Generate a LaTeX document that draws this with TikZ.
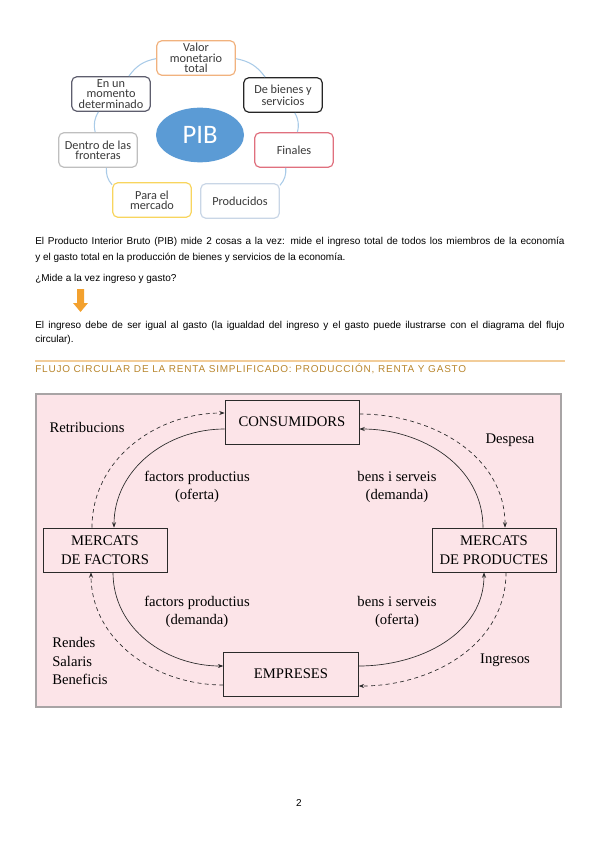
\documentclass[tikz,border=0pt]{standalone}
\usepackage{fontspec}
\setmainfont{Liberation Serif}
\setsansfont{Liberation Sans}
\newfontfamily\calib{Carlito}
\usetikzlibrary{arrows.meta,positioning,shapes.geometric,calc}
\definecolor{ringc}{HTML}{A9CBE8}
\definecolor{ringtxt}{HTML}{3A3A3A}
\definecolor{pibc}{HTML}{5B9BD5}
\definecolor{valc}{HTML}{F1B27E}
\definecolor{bienc}{HTML}{262626}
\definecolor{finc}{HTML}{E0707E}
\definecolor{prodc}{HTML}{C9D6E6}
\definecolor{mercc}{HTML}{F8D55E}
\definecolor{dentc}{HTML}{BFBFBF}
\definecolor{momc}{HTML}{5E5E6E}
\definecolor{arrowc}{HTML}{F3A12E}
\definecolor{rulec}{HTML}{F2CD9A}
\definecolor{headc}{HTML}{B8862E}
\definecolor{flowbg}{HTML}{FCE4E8}
\definecolor{flowfr}{HTML}{A8A4A5}
\definecolor{flowln}{HTML}{2A2A2A}
\tikzset{
  ring/.style={draw=#1, fill=white, rounded corners=4pt, line width=0.9pt, minimum width=59pt, minimum height=26pt, inner sep=0.5pt, align=center, font=\calib\fontsize{9.2}{7.8}\selectfont, text=ringtxt},
  ringlink/.style={draw=ringc, line width=0.8pt},
  para/.style={anchor=west, inner sep=0pt, font=\sffamily\fontsize{7.5}{9}\selectfont},
  flowbox/.style={draw=flowln, fill=flowbg, line width=0.6pt, minimum height=33pt, inner sep=2pt, align=center, font=\fontsize{11}{14}\selectfont},
  lbl/.style={align=center, inner sep=0pt, font=\fontsize{11}{14}\selectfont},
  solidflow/.style={-{Stealth[length=4pt,width=3pt]}, line width=0.5pt, draw=flowln},
  cashflow/.style={solidflow, dash pattern=on 3pt off 2.5pt},
}
\begin{document}
\begin{tikzpicture}[x=0.75pt, y=-0.75pt]
  \useasboundingbox (0,0) rectangle (599,848);
  % anillo del PIB
  \node[ellipse, fill=pibc, minimum width=66pt, minimum height=41pt, text=white, font=\calib\fontsize{20}{20}\selectfont] (pib) at (200,135) {PIB};
  \node[ring=valc] (val) at (196,58) {Valor\\monetario\\total};
  \node[ring=bienc] (bien) at (283,95) {De bienes y\\servicios};
  \node[ring=finc] (fin) at (294,150) {Finales};
  \node[ring=prodc] (prod) at (240,201) {Producidos};
  \node[ring=mercc] (merc) at (152,200) {Para el\\mercado};
  \node[ring=dentc] (dent) at (98,150) {Dentro de las\\fronteras};
  \node[ring=momc] (mom) at (111,94) {En un\\momento\\determinado};
  \draw[ringlink] (val) to[bend left=22] (bien);
  \draw[ringlink] (bien) to[bend left=22] (fin);
  \draw[ringlink] (fin) to[bend left=22] (prod);
  \draw[ringlink] (merc) to[bend left=22] (dent);
  \draw[ringlink] (dent) to[bend left=22] (mom);
  \draw[ringlink] (mom) to[bend left=22] (val);
  % texto
  \node[para] (p1) at (35,242) {\makebox[397pt][s]{El Producto Interior Bruto (PIB) mide 2 cosas a la vez: mide el ingreso total de todos los miembros de la economía}};
  \node[para] (p2) at (35,258) {y el gasto total en la producción de bienes y servicios de la economía.};
  \node[para] (q) at (35,279) {¿Mide a la vez ingreso y gasto?};
  \fill[arrowc] (77,289) -- (84,289) -- (84,303) -- (88,303) -- (80.5,312) -- (73,303) -- (77,303) -- cycle;
  \node[para] (p3) at (35,326) {\makebox[397pt][s]{El ingreso debe de ser igual al gasto (la igualdad del ingreso y el gasto puede ilustrarse con el diagrama del flujo}};
  \node[para] (p4) at (35,340) {circular).};
  \draw[rulec, line width=1pt] (35,361) -- (565,361);
  \node[para, text=headc, font=\sffamily\addfontfeatures{LetterSpace=8}\fontsize{7.5}{9}\selectfont] (head) at (35,369) {FLUJO CIRCULAR DE LA RENTA SIMPLIFICADO: PRODUCCIÓN, RENTA Y GASTO};
  % flujo circular
  \draw[flowfr, fill=flowbg, line width=0.8pt] (36,394) rectangle (561,707);
  \node[flowbox, minimum width=100.5pt] (cons) at (292,422) {CONSUMIDORS};
  \node[flowbox, minimum width=93pt] (mfac) at (105,550) {MERCATS\\DE FACTORS};
  \node[flowbox, minimum width=93pt] (mprod) at (494,550) {MERCATS\\DE PRODUCTES};
  \node[flowbox, minimum width=101pt] (emp) at (291,674) {EMPRESES};
  \draw[cashflow] ($(mfac.north)+(-13,0)$) to[out=90,in=180] ($(cons.west)+(0,-9)$);
  \draw[solidflow] ($(cons.west)+(0,7)$) to[out=180,in=90] ($(mfac.north)+(9,0)$);
  \draw[solidflow] ($(mfac.south)+(8,0)$) to[out=-90,in=180] ($(emp.west)+(0,-8)$);
  \draw[cashflow] ($(emp.west)+(0,11)$) to[out=180,in=-90] ($(mfac.south)+(-14,0)$);
  \draw[cashflow] ($(cons.east)+(0,-8)$) to[out=0,in=90] ($(mprod.north)+(11,0)$);
  \draw[solidflow] ($(mprod.north)+(-11,0)$) to[out=90,in=0] ($(cons.east)+(0,7)$);
  \draw[solidflow] ($(emp.east)+(0,-8)$) to[out=0,in=-90] ($(mprod.south)+(-10,0)$);
  \draw[cashflow] ($(mprod.south)+(12,0)$) to[out=-90,in=0] ($(emp.east)+(0,12)$);
  \node[lbl] (retr) at (87,427) {Retribucions};
  \node[lbl] (desp) at (510,440) {Despesa};
  \node[lbl] (fpo) at (197,487) {factors productius\\(oferta)};
  \node[lbl] (bsd) at (397,487) {bens i serveis\\(demanda)};
  \node[lbl] (fpd) at (197,612) {factors productius\\(demanda)};
  \node[lbl] (bso) at (397,612) {bens i serveis\\(oferta)};
  \node[lbl, align=left, anchor=west] (rend) at (52,661) {Rendes\\Salaris\\Beneficis};
  \node[lbl] (ingr) at (505,660) {Ingresos};
  \node[para, anchor=center] (pag) at (299,803) {2};
\end{tikzpicture}
\end{document}
